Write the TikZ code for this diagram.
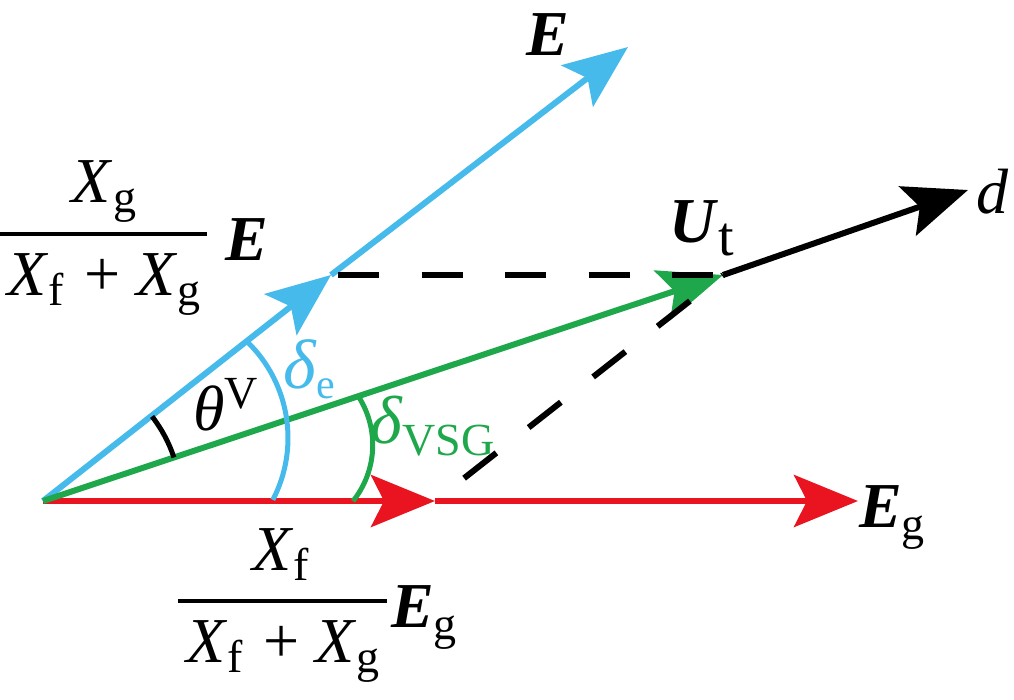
\documentclass[tikz,border=0pt]{standalone}
\usepackage{fontspec}
\setmainfont{Liberation Serif}
\usetikzlibrary{arrows.meta}
\definecolor{cblue}{RGB}{70,187,235}
\definecolor{cred}{RGB}{233,20,32}
\definecolor{cgreen}{RGB}{30,168,75}
\newcommand\lsb[3]{\raisebox{#2}{\fontsize{#1}{#1}\selectfont #3}}
\begin{document}
\begin{tikzpicture}[x=1pt,y=-1pt,
  vec/.style={line width=6pt,-{Stealth[length=64pt,width=52pt,inset=13pt]}},
  dsh/.style={line width=6pt,black},
  arcline/.style={line width=5pt},
  fbar/.style={line width=4pt,black},
  lbl/.style={inner sep=0pt,anchor=base west,font=\fontsize{64}{70}\selectfont}]
\useasboundingbox (0,0) rectangle (1014,699);
% key points
\coordinate (O) at (43,501);
\coordinate (M) at (435,501);
\coordinate (G) at (858,501);
\coordinate (B) at (331,275);
\coordinate (Et) at (628,47);
\coordinate (U) at (723,275);
\coordinate (D) at (968,190);
% red
\draw[vec,cred] (O) -- (M);
\draw[vec,cred] (M) -- (G);
% blue
\draw[vec,cblue] (O) -- (B);
\draw[vec,cblue] (B) -- (Et);
% green
\draw[vec,cgreen] (O) -- (U);
% black d
\draw[vec,black] (U) -- (D);
% dashed
\draw[dsh,dash pattern=on 41pt off 42.5pt,dash phase=76.5pt] (B) -- (U);
\draw[dsh,dash pattern=on 41pt off 41pt,dash phase=45pt] (M) -- (U);
% arcs
\draw[arcline,black] ([shift={(-18.4:138)}]O) arc[start angle=-18.4,end angle=-37.8,radius=138];
\coordinate (Cb) at (154,438);
\draw[arcline,cblue] ([shift={(27.5:134)}]Cb) arc[start angle=27.5,end angle=-45.3,radius=134];
\coordinate (Cg) at (283,445);
\draw[arcline,cgreen] ([shift={(38.7:89.7)}]Cg) arc[start angle=38.7,end angle=-32.3,radius=89.7];
% labels
\node[lbl] (Etop) at (526,55) {\textbf{\textit{E}}};
\node[lbl] (Ut) at (669,242) {\textbf{\textit{U}}\lsb{56}{-13pt}{t}};
\node[lbl] (dl) at (976,213) {\textit{d}};
\node[lbl] (Eg) at (859,527) {\textbf{\textit{E}}\lsb{46}{-12pt}{g}};
% upper fraction
\node[lbl,anchor=base] (n1) at (104,202) {\textit{X}\lsb{46}{-10pt}{g}};
\coordinate (b1l) at (0,234);
\coordinate (b1r) at (207,234);
\draw[fbar] (b1l) -- (b1r);
\node[lbl,anchor=base] (d1) at (104,295) {\textit{X}\lsb{46}{-10pt}{f}\hspace{21pt}+\hspace{16pt}\textit{X}\lsb{46}{-10pt}{g}};
\node[lbl] (E1) at (225,260) {\textbf{\textit{E}}};
% lower fraction
\node[lbl,anchor=base] (n2) at (281,570) {\textit{X}\lsb{46}{-10pt}{f}};
\coordinate (b2l) at (178,601);
\coordinate (b2r) at (387,601);
\draw[fbar] (b2l) -- (b2r);
\node[lbl,anchor=base] (d2) at (283,662) {\textit{X}\lsb{46}{-10pt}{f}\hspace{21pt}+\hspace{16pt}\textit{X}\lsb{46}{-10pt}{g}};
\node[lbl] (E2) at (391,627) {\textbf{\textit{E}}\lsb{46}{-12pt}{g}};
% angle labels
\node[lbl] (th) at (193,430) {\textit{θ}\lsb{46}{22pt}{V}};
\node[lbl,text=cblue] (de) at (283,388) {\fontsize{70}{70}\selectfont\textit{δ}\lsb{42}{-10pt}{e}};
\node[lbl,text=cgreen] (dv) at (370,443) {\fontsize{68}{70}\selectfont\textit{δ}\lsb{46}{-12pt}{VSG}};
\end{tikzpicture}
\end{document}
